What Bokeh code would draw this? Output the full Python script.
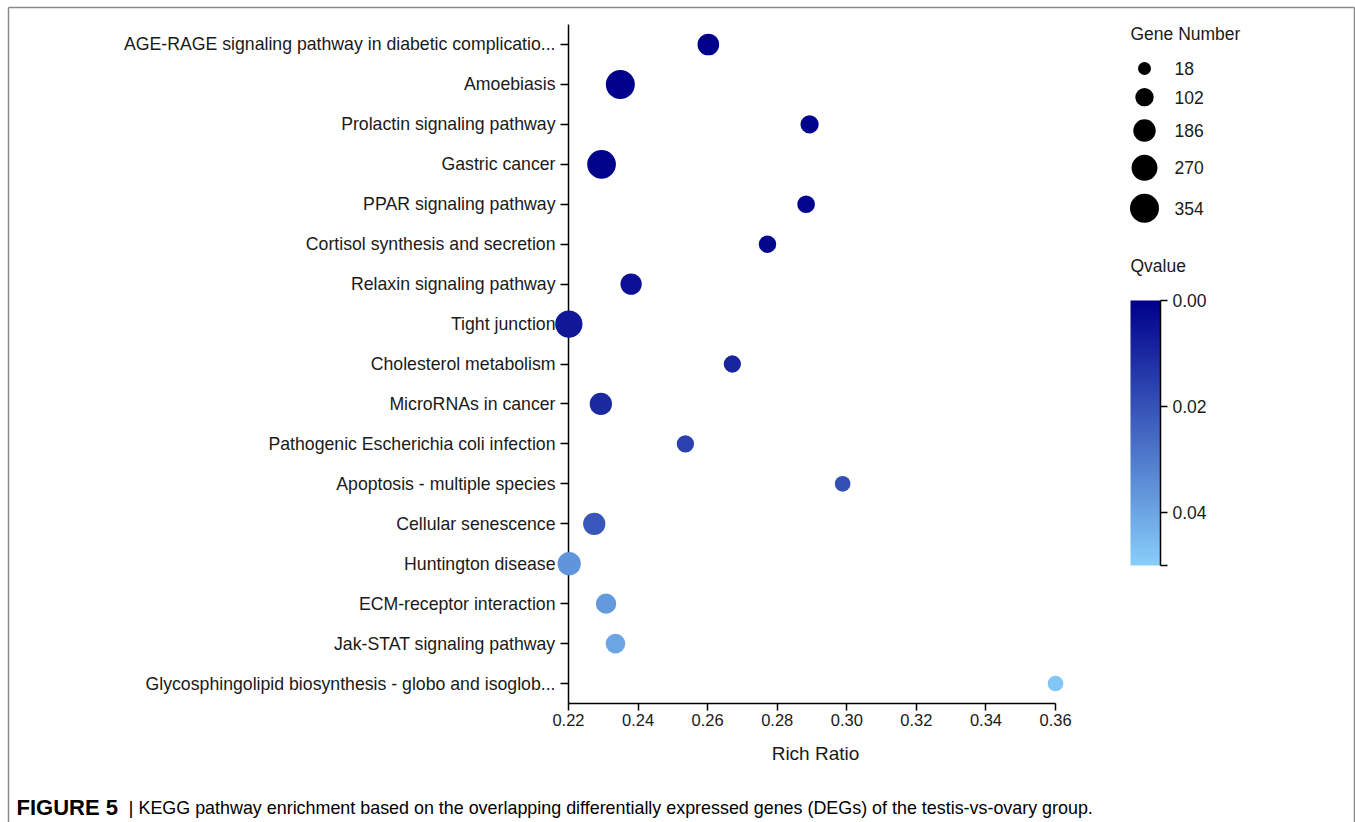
import numpy as np
from bokeh.plotting import figure
from bokeh.models import (ColumnDataSource, Range1d, FactorRange, FixedTicker,
                          LinearColorMapper, ColorBar, CustomJSTickFormatter,
                          NumeralTickFormatter, AllLabels)
from bokeh.embed import file_html
from bokeh.resources import INLINE
from bokeh.core.properties import value

# ---------------- data ----------------
pathways = [
    "AGE-RAGE signaling pathway in diabetic complicatio...",
    "Amoebiasis",
    "Prolactin signaling pathway",
    "Gastric cancer",
    "PPAR signaling pathway",
    "Cortisol synthesis and secretion",
    "Relaxin signaling pathway",
    "Tight junction",
    "Cholesterol metabolism",
    "MicroRNAs in cancer",
    "Pathogenic Escherichia coli infection",
    "Apoptosis - multiple species",
    "Cellular senescence",
    "Huntington disease",
    "ECM-receptor interaction",
    "Jak-STAT signaling pathway",
    "Glycosphingolipid biosynthesis - globo and isoglob...",
]
rich_ratio = [0.2602, 0.2349, 0.2893, 0.2295, 0.2883, 0.2772, 0.2380, 0.2201,
              0.2671, 0.2293, 0.2536, 0.2988, 0.2274, 0.2202, 0.2308, 0.2335, 0.3600]
gene_number = [168, 354, 101, 345, 90, 85, 161, 307, 83, 182, 83, 56, 182, 205, 140, 127, 56]
qvalue = [0.0003, 0.0003, 0.0008, 0.0008, 0.0012, 0.0015, 0.004, 0.006, 0.009,
          0.010, 0.016, 0.019, 0.021, 0.036, 0.037, 0.040, 0.048]

size_legend_values = [18, 102, 186, 270, 354]
x_ticks = [0.22, 0.24, 0.26, 0.28, 0.30, 0.32, 0.34, 0.36]
q_ticks = [0.00, 0.02, 0.04]
q_max = 0.05

caption_bold = "FIGURE 5"
caption_bar = "|"
caption_text = "KEGG pathway enrichment based on the overlapping differentially expressed genes (DEGs) of the testis-vs-ovary group."

FONT = "Liberation Sans"
TXT = "#1a1a1a"
BORDER = "#8a8a8a"

# layout (page pixels)
W, H = 1355, 822
TOP, BOTTOM = 24, 703          # frame top / bottom
LEFT, RIGHT = 568, 1062         # frame left (= y axis) / right
X0, X1 = 0.22, 0.362            # x range
BX0, BY0, BX1 = 8, 7, 1354      # outer border box (left, top, right)
N = len(pathways)


def diam(n):
    return np.sqrt(133.0 + 2.0 * np.asarray(n, dtype=float))


def interp_palette(c0, c1, n):
    a = np.array([int(c0[i:i + 2], 16) for i in (1, 3, 5)], float)
    b = np.array([int(c1[i:i + 2], 16) for i in (1, 3, 5)], float)
    out = []
    for t in np.linspace(0, 1, n):
        c = a + (b - a) * t
        out.append("#%02x%02x%02x" % tuple(int(round(v)) for v in c))
    return out


# page pixel -> data coordinates (for decorations placed outside the frame)
def sx(px):
    return X0 + (np.asarray(px, float) - LEFT) * (X1 - X0) / (RIGHT - LEFT)


def sy(py):
    return N - (np.asarray(py, float) - TOP) * N / (BOTTOM - TOP)


# colour mapping (negated so that 0.00 sits at the top of the colour bar)
palette = interp_palette("#87CEFA", "#00008B", 256)
mapper = LinearColorMapper(palette=palette, low=-q_max, high=0.0)

src = ColumnDataSource(dict(
    x=rich_ratio, y=pathways, size=diam(gene_number),
    negq=[-q for q in qvalue],
))

p = figure(width=W, height=H,
           x_range=Range1d(X0, X1),
           y_range=FactorRange(factors=pathways[::-1]),
           output_backend="svg", toolbar_location=None,
           min_border_left=LEFT, min_border_right=W - RIGHT,
           min_border_top=TOP, min_border_bottom=H - BOTTOM)
p.outline_line_color = None
p.grid.visible = False

r = p.scatter("x", "y", size="size", source=src,
              fill_color={"field": "negq", "transform": mapper},
              line_color=None)
r.level = "overlay"

# axes
yax = p.yaxis[0]
yax.axis_line_color = "black"
yax.axis_line_width = 1.5
yax.major_tick_line_color = "black"
yax.major_tick_line_width = 1.5
yax.major_tick_out = 8
yax.major_tick_in = 0
yax.major_label_standoff = 5
yax.major_label_text_font = FONT
yax.major_label_text_font_size = "17.7px"
yax.major_label_text_color = TXT

xax = p.xaxis[0]
xax.bounds = (x_ticks[0], x_ticks[-1])
xax.ticker = FixedTicker(ticks=x_ticks)
xax.formatter = NumeralTickFormatter(format="0.00")
xax.minor_tick_line_color = None
xax.axis_line_color = "black"
xax.axis_line_width = 1.5
xax.major_tick_line_color = "black"
xax.major_tick_line_width = 1.5
xax.major_tick_out = 7
xax.major_tick_in = 0
xax.major_label_standoff = 3
xax.major_label_text_font = FONT
xax.major_label_text_font_size = "16.5px"
xax.major_label_text_color = TXT
xax.axis_label = "Rich Ratio"
xax.axis_label_text_font = FONT
xax.axis_label_text_font_size = "19px"
xax.axis_label_text_font_style = "normal"
xax.axis_label_text_color = TXT
xax.axis_label_standoff = 14

# ---------------- size legend ----------------
leg_d = diam(size_legend_values)
ys = [68.0]
for i in range(1, len(leg_d)):
    ys.append(ys[-1] + leg_d[i - 1] / 2 + leg_d[i] / 2 + 13)
# ellipses in screen units (not culled outside the frame like markers are)
g = p.ellipse(x=sx([1144] * len(ys)), y=sy(ys), width=leg_d, height=leg_d,
              width_units="screen", height_units="screen",
              fill_color="black", line_color=None)
g.level = "overlay"
g = p.text(x=sx([1174] * len(ys)), y=sy(ys), text=[str(v) for v in size_legend_values],
           text_baseline="middle", text_align="left",
           text_font=value(FONT), text_font_size=value("17.5px"), text_color=TXT)
g.level = "overlay"
g = p.text(x=sx([1130, 1130]), y=sy([33, 265]), text=["Gene Number", "Qvalue"],
           text_baseline="middle", text_align="left",
           text_font=value(FONT), text_font_size=value("17.5px"), text_color=TXT)
g.level = "overlay"

# ---------------- colour bar ----------------
CB_TOP, CB_BOTTOM, CB_LEFT, CB_W = 300, 565, 1130, 30
cb_ticks = [-q_max] + [-t for t in q_ticks]
cb = ColorBar(color_mapper=mapper, location=(CB_LEFT - LEFT, BOTTOM - CB_BOTTOM),
              width=CB_W, height=CB_BOTTOM - CB_TOP,
              padding=0, margin=0,
              ticker=FixedTicker(ticks=cb_ticks),
              formatter=CustomJSTickFormatter(
                  code="return (Math.abs(tick + %r) < 1e-9) ? '' : Math.abs(tick).toFixed(2);" % q_max),
              major_label_policy=AllLabels(),
              major_tick_out=7, major_tick_in=0,
              major_tick_line_color="black", major_tick_line_width=1.5,
              minor_tick_line_color=None,
              major_label_text_font=FONT, major_label_text_font_size="17.5px",
              major_label_text_color=TXT, label_standoff=5,
              bar_line_color=None, border_line_color=None,
              background_fill_color=None)
p.add_layout(cb)
g = p.segment(x0=sx([CB_LEFT + CB_W]), y0=sy([CB_TOP]), x1=sx([CB_LEFT + CB_W]), y1=sy([CB_BOTTOM]),
              line_color="black", line_width=1.5)
g.level = "overlay"

# ---------------- outer border ----------------
g = p.segment(x0=sx([BX0, BX0, BX1]), y0=sy([BY0, BY0, BY0]),
              x1=sx([BX0, BX1, BX1]), y1=sy([H + 2, BY0, H + 2]),
              line_color=BORDER, line_width=1.5)
g.level = "overlay"

# ---------------- caption ----------------
CAP_Y = 807
g = p.text(x=sx([16]), y=sy([CAP_Y]), text=[caption_bold], text_baseline="middle",
           text_font=value(FONT), text_font_style="bold",
           text_font_size=value("22px"), text_color="black")
g.level = "overlay"
g = p.text(x=sx([128]), y=sy([CAP_Y]), text=[caption_bar], text_baseline="middle",
           text_font=value(FONT), text_font_size=value("19px"), text_color="black")
g.level = "overlay"
g = p.text(x=sx([138]), y=sy([CAP_Y]), text=[caption_text], text_baseline="middle",
           text_font=value(FONT), text_font_size=value("17.9px"), text_color="black")
g.level = "overlay"

open("out.html", "w").write(file_html(p, INLINE))
